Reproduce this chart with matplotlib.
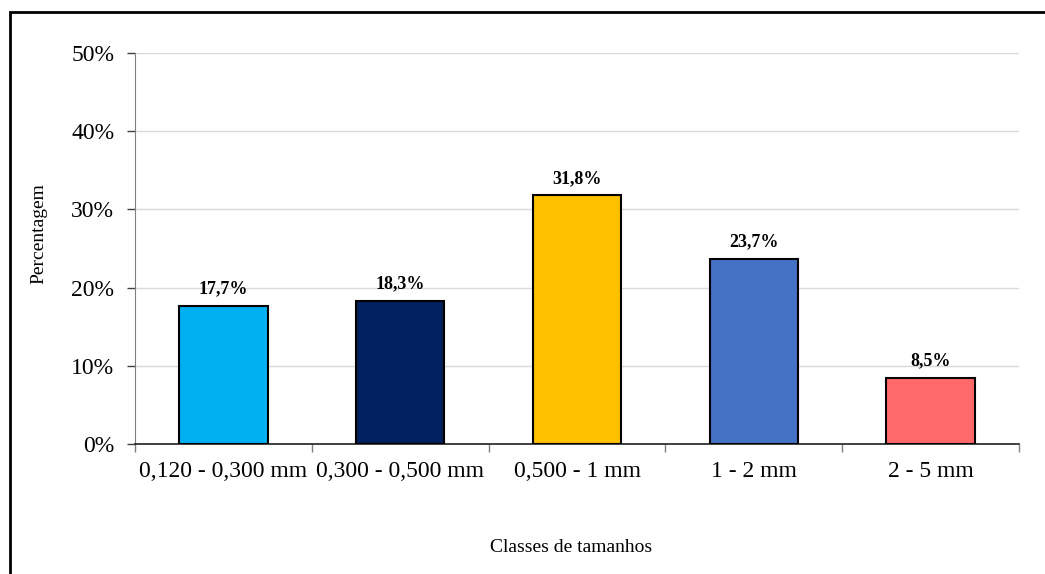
import matplotlib
matplotlib.use("Agg")
import matplotlib.pyplot as plt
from matplotlib.patches import Rectangle
from matplotlib.ticker import FuncFormatter

categories = ["0,120 - 0,300 mm", "0,300 - 0,500 mm", "0,500 - 1 mm", "1 - 2 mm", "2 - 5 mm"]
values = [17.7, 18.3, 31.8, 23.7, 8.5]
colors = ["#00B0F0", "#002060", "#FFC000", "#4472C4", "#FF6969"]
yticks = [0, 10, 20, 30, 40, 50]

plt.rcParams['font.family'] = ['Liberation Serif', 'DejaVu Serif']

fig = plt.figure(figsize=(10.45, 5.74), dpi=100)
ax = fig.add_axes([135/1045, 1-444/574, (1019-135)/1045, (444-53)/574])

x = list(range(len(categories)))
ax.bar(x, values, width=0.5, color=colors, edgecolor="black", linewidth=1.5, zorder=3)
for xi, v in zip(x, values):
    ax.annotate(f"{v:.1f}%".replace(".", ","), (xi, v), xytext=(0, 6), textcoords="offset points",
                ha="center", va="bottom", fontsize=13, fontweight="bold")

ax.set_xlim(-0.5, len(categories) - 0.5)
ax.set_ylim(0, 50)
ax.set_yticks(yticks)
ax.yaxis.set_major_formatter(FuncFormatter(lambda v, p: f"{v:.0f}%"))
ax.grid(axis="y", color="#d9d9d9", linewidth=1, zorder=0)

ax.set_xticks(x)
ax.set_xticklabels(categories)
ax.set_xticks([i - 0.5 for i in range(len(categories) + 1)], minor=True)
ax.tick_params(axis="x", which="major", length=0, pad=12, labelsize=17)
ax.tick_params(axis="x", which="minor", length=6, width=1, color="#7f7f7f", direction="out")
ax.tick_params(axis="y", length=6, width=1, color="#404040", pad=9, labelsize=17, direction="out")

for s in ["top", "right"]:
    ax.spines[s].set_visible(False)
ax.spines["left"].set_color("#7f7f7f")
ax.spines["bottom"].set_color("#202020")
ax.spines["bottom"].set_linewidth(1.2)

ax.set_xlabel("Classes de tamanhos", fontsize=14)
ax.xaxis.set_label_coords((571-135)/(1019-135), -(539-444)/(444-53))
ax.set_ylabel("Percentagem", fontsize=14)
ax.yaxis.set_label_coords(-(135-47)/(1019-135), (444-234)/(444-53))

fig.patches.append(Rectangle((10/1045, -0.1), 1.2, 1.1 - 12.5/574, transform=fig.transFigure,
                             fill=False, edgecolor="black", linewidth=2))

fig.savefig("out.png", dpi=100)
